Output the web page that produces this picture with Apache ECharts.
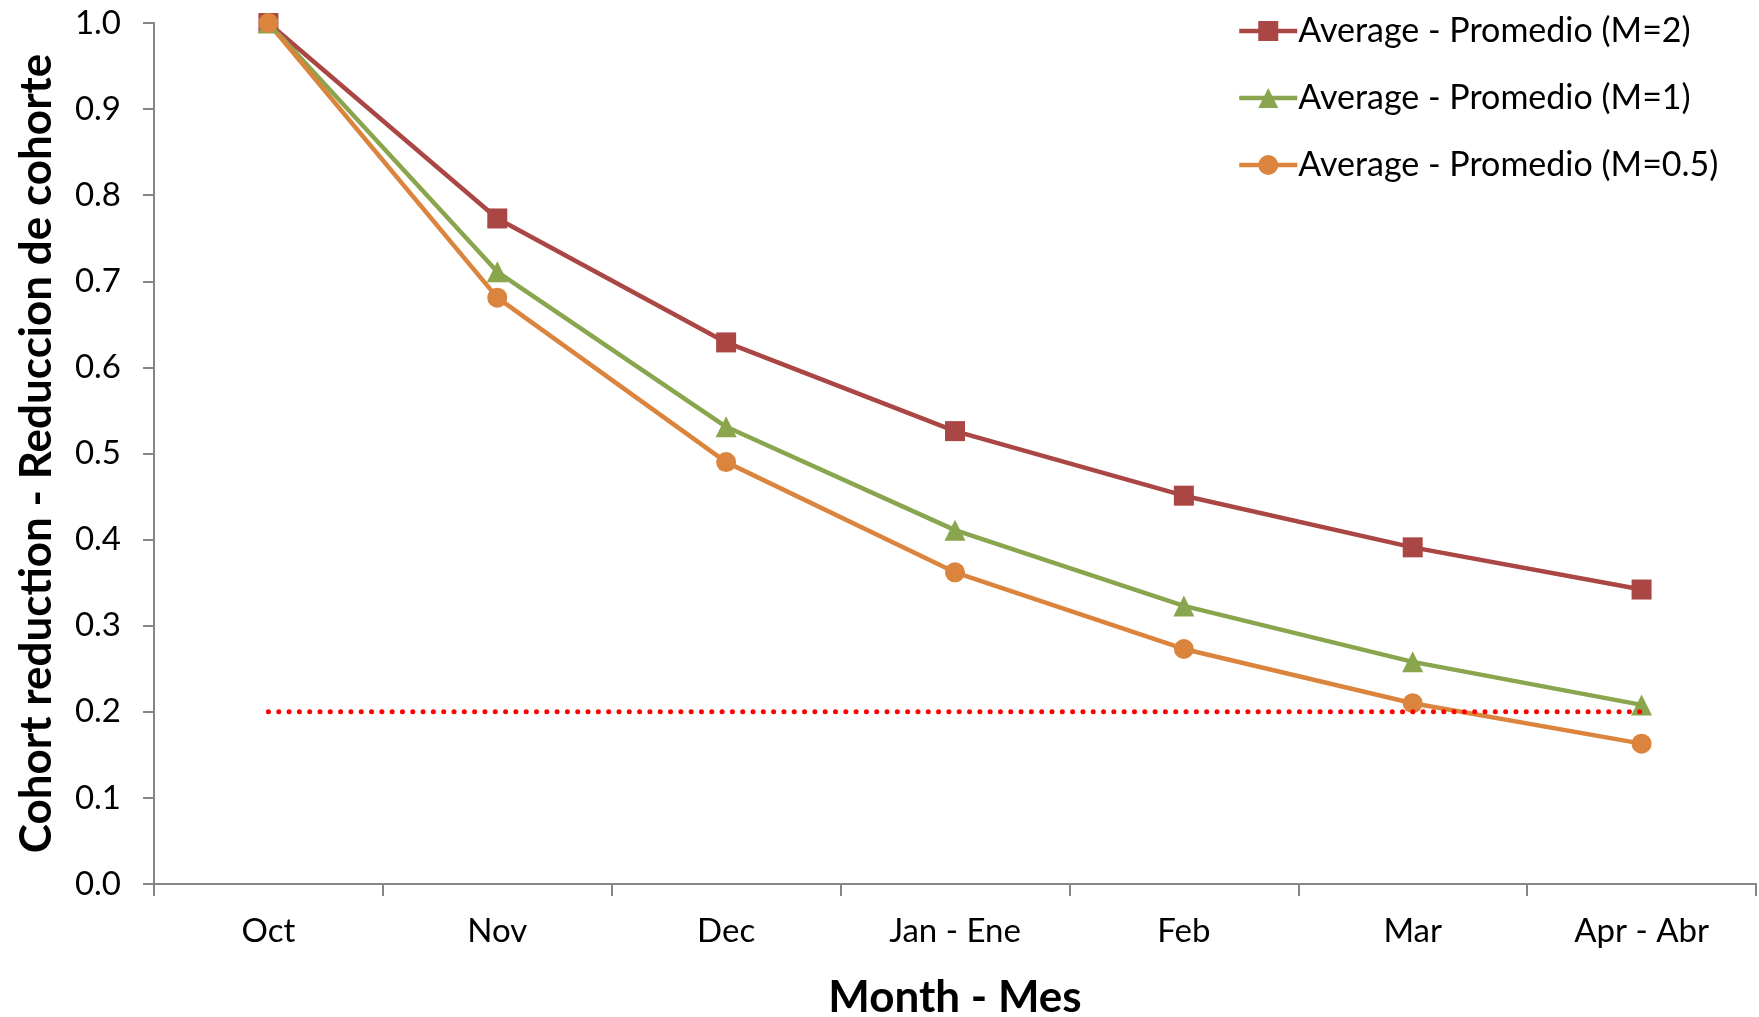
<!DOCTYPE html>
<html>
<head>
<meta charset="utf-8">
<title>Cohort reduction by month</title>
<script src="https://cdn.jsdelivr.net/npm/echarts@6/dist/echarts.min.js"></script>
<style>
  html, body { margin: 0; padding: 0; background: #ffffff; }
  #chart { width: 1759px; height: 1017px; }
</style>
</head>
<body>
<div id="chart"></div>
<script>
// Months of the survey season
const months = ['Oct', 'Nov', 'Dec', 'Jan - Ene', 'Feb', 'Mar', 'Apr - Abr'];

// Average cohort reduction for each natural mortality assumption
const avgM2 = [1.000, 0.773, 0.629, 0.526, 0.451, 0.391, 0.342];
const avgM1 = [1.000, 0.711, 0.531, 0.411, 0.323, 0.258, 0.208];
const avgM05 = [1.000, 0.681, 0.490, 0.362, 0.273, 0.210, 0.163];

// Reference threshold level
const threshold = [0.2, 0.2, 0.2, 0.2, 0.2, 0.2, 0.2];

const seriesNames = [
  'Average - Promedio (M=2)',
  'Average - Promedio (M=1)',
  'Average - Promedio (M=0.5)'
];

const FONT = 'Lato, "Open Sans", sans-serif';
const AXIS_GRAY = '#868686';

function lineSeries(name, data, color, symbol, size) {
  return {
    name: name,
    type: 'line',
    data: data,
    symbol: symbol,
    symbolSize: size,
    showSymbol: true,
    lineStyle: { color: color, width: 4.5 },
    itemStyle: { color: color },
    emphasis: { disabled: true },
    animation: false
  };
}

const chart = echarts.init(document.getElementById('chart'), null, { renderer: 'canvas' });

chart.setOption({
  backgroundColor: '#ffffff',
  animation: false,
  grid: { left: 154, right: 3, top: 23, bottom: 133, containLabel: false, outerBoundsMode: 'none' },
  legend: {
    data: seriesNames,
    orient: 'vertical',
    left: 1232,
    top: 9,
    itemWidth: 58,
    itemHeight: 25,
    itemGap: 33,
    lineStyle: { width: 4.5 },
    textStyle: { fontFamily: FONT, fontSize: 34, color: '#000000', padding: [0, 0, 0, -4] },
    selectedMode: false
  },
  xAxis: {
    type: 'category',
    data: months,
    boundaryGap: true,
    name: 'Month - Mes',
    nameLocation: 'middle',
    nameGap: 92,
    nameTextStyle: { fontFamily: FONT, fontSize: 44, fontWeight: 'bold', color: '#000000' },
    axisLine: { lineStyle: { color: AXIS_GRAY, width: 2 } },
    axisTick: { show: true, length: 12, lineStyle: { color: AXIS_GRAY, width: 2 }, alignWithLabel: false },
    axisLabel: { fontFamily: FONT, fontSize: 33, color: '#000000', margin: 31 },
    splitLine: { show: false }
  },
  yAxis: {
    type: 'value',
    min: 0,
    max: 1,
    interval: 0.1,
    name: 'Cohort reduction - Reduccion de cohorte',
    nameLocation: 'middle',
    nameGap: 95,
    nameTextStyle: { fontFamily: FONT, fontSize: 44, fontWeight: 'bold', color: '#000000' },
    axisLine: { show: true, lineStyle: { color: AXIS_GRAY, width: 2 } },
    axisTick: { show: true, length: 11, lineStyle: { color: AXIS_GRAY, width: 2 } },
    axisLabel: {
      fontFamily: FONT, fontSize: 33, color: '#000000', margin: 33,
      formatter: function (v) { return v.toFixed(1); }
    },
    splitLine: { show: false }
  },
  series: [
    lineSeries(seriesNames[0], avgM2, '#AA4643', 'rect', 20),
    lineSeries(seriesNames[1], avgM1, '#89A54E', 'triangle', 21),
    lineSeries(seriesNames[2], avgM05, '#DB843D', 'circle', 20),
    {
      name: 'threshold',
      type: 'line',
      data: threshold,
      symbol: 'none',
      z: 5,
      lineStyle: { color: '#FF0000', width: 5, type: [0.01, 10.3], cap: 'round' },
      emphasis: { disabled: true },
      animation: false
    }
  ]
});
</script>
</body>
</html>
